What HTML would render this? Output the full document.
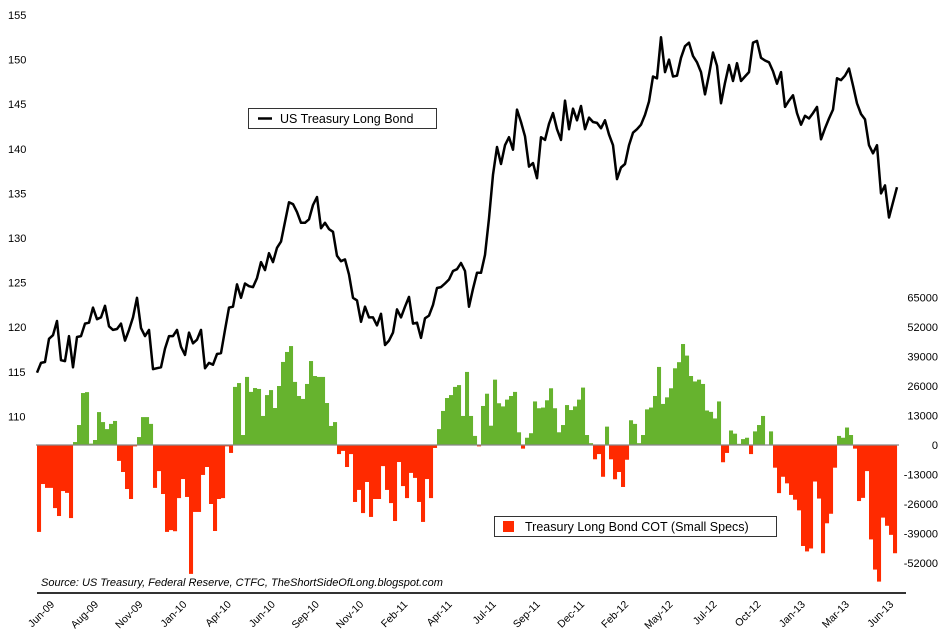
<!DOCTYPE html>
<html><head><meta charset="utf-8"><style>
html,body{margin:0;padding:0;background:#fff;}
svg{display:block;font-family:"Liberation Sans",sans-serif;}
</style></head><body>
<svg id="chart" width="945" height="635" viewBox="0 0 945 635" xmlns="http://www.w3.org/2000/svg">
<g id="left-axis"></g>
<g id="right-axis"></g>
<g id="bars"></g>
<line x1="36" y1="445" x2="899" y2="445" stroke="#888" stroke-width="1.2"/>
<path id="price-line" fill="none" stroke="#000" stroke-width="2.5" stroke-linejoin="round"/>
<g>
<rect x="248.5" y="108.5" width="188" height="20" fill="#fff" stroke="#333" stroke-width="1"/>
<line x1="258" y1="118.5" x2="272" y2="118.5" stroke="#000" stroke-width="2.5"/>
<text x="280" y="123" font-size="12.5" fill="#000">US Treasury Long Bond</text>
</g>
<g>
<rect x="494.5" y="516.5" width="282" height="20" fill="#fff" stroke="#333" stroke-width="1"/>
<rect x="503" y="521" width="11" height="11" fill="#ff2a00"/>
<text x="525" y="531" font-size="12.5" fill="#000">Treasury Long Bond COT (Small Specs)</text>
</g>
<text x="41" y="586" font-size="11" font-style="italic" fill="#000">Source: US Treasury, Federal Reserve, CTFC, TheShortSideOfLong.blogspot.com</text>
<line x1="37" y1="593" x2="906" y2="593" stroke="#333" stroke-width="2"/>
<g id="x-axis"></g>
</svg>
<script>
const prices = [114.9,116.0,116.1,118.7,119.1,120.7,116.3,116.2,119.0,115.5,118.9,119.0,120.4,120.5,122.2,120.9,121.1,122.4,120.1,119.7,119.8,120.4,118.5,119.7,121.1,123.3,119.9,119.0,119.7,115.3,115.4,115.5,117.6,119.0,119.0,119.7,117.8,116.9,119.4,118.2,118.6,119.7,115.4,116.0,115.8,117.0,117.1,119.7,122.2,122.3,124.8,123.3,124.9,124.6,124.5,125.5,127.3,126.4,128.3,127.3,128.9,129.6,131.8,134.0,133.8,132.9,131.7,131.7,132.1,133.7,134.6,131.1,131.7,131.0,130.7,128.0,127.4,127.6,125.9,123.3,123.0,120.6,122.3,121.1,121.1,120.2,121.5,118.0,118.5,119.4,122.0,121.1,122.3,123.4,120.4,120.5,118.8,121.0,121.3,122.5,124.4,
124.5,124.9,125.35,126.3,126.5,127.2,126.3,122.3,124.3,126.1,126.1,128.1,132.2,137.1,140.2,138.3,140.4,141.3,139.9,144.4,143.0,141.4,138.0,138.4,136.7,141.3,141.0,142.8,144.0,142.2,141.0,145.4,142.2,144.5,143.2,144.8,142.2,143.5,143.0,142.9,142.3,143.2,141.6,140.4,136.6,137.9,138.3,140.4,141.8,142.2,142.7,143.8,145.3,148.1,147.9,152.5,148.6,150.0,148.1,148.2,150.2,151.5,151.9,150.4,149.7,148.6,146.1,148.3,150.8,149.3,145.1,147.4,149.4,147.6,149.6,147.6,148.1,148.6,151.9,152.1,150.2,149.9,149.7,148.7,147.3,148.6,144.7,145.4,146.0,144.0,142.7,143.7,143.4,144.0,144.7,141.06,142.3,143.4,144.4,147.9,147.7,148.2,149.0,147.1,145.1,143.9,143.3,140.4,139.5,140.4,135.0,135.9,132.3,134.0,135.7];
const cot = [-38300,-17200,-18900,-18900,-27800,-31300,-20300,-21100,-32200,1300,8800,22900,23300,600,2200,14500,10100,7000,9300,10600,-7000,-11900,-19400,-23800,-600,3500,12300,12300,9300,-18900,-11500,-21600,-38300,-37500,-38000,-23400,-15000,-22900,-56800,-29500,-29500,-13200,-9700,-26000,-37900,-23800,-23400,-600,-3500,25600,27300,4400,30000,23400,25100,24700,12800,22000,24200,16300,26000,36600,41000,43600,27800,21600,20300,26900,37000,30400,30000,30000,18500,8400,10100,-4000,-2600,-9700,-4000,-25100,-19800,-30000,-16300,-31700,-23800,-23800,-9300,-19800,-25600,-33500,-7500,-18100,-23400,-12300,-14500,-25100,-33900,-15000,-23400,-1300,7000,15000,20700,22000,25600,26400,12800,32200,12800,4000,-600,17200,
22600,8500,28800,18400,17000,20000,21600,23400,5600,-1600,3200,5200,19200,16200,16500,19700,25000,16200,5600,8800,17600,15400,17000,20000,25300,4400,800,-6300,-4000,-14000,8100,-6300,-15100,-11900,-18500,-6500,10900,9300,800,4400,15700,16500,21600,34400,18100,21000,25000,33800,36500,44500,39400,30400,28000,28800,26900,15200,14600,11700,19200,-7600,-3500,6400,5000,500,2600,3200,-4000,6000,8800,12800,200,6000,-10000,-21200,-14000,-16900,-22000,-24100,-28800,-44500,-46900,-45600,-16100,-23600,-47700,-34500,-30300,-10000,4000,3200,7700,4400,-1600,-24700,-23300,-11500,-41600,-54900,-60200,-32000,-35600,-39600,-47700];
const leftTicks = [155,150,145,140,135,130,125,120,115,110];
const rightTicks = [65000,52000,39000,26000,13000,0,-13000,-26000,-39000,-52000];
const xLabels = ["Jun-09","Aug-09","Nov-09","Jan-10","Apr-10","Jun-10","Sep-10","Nov-10","Feb-11","Apr-11","Jul-11","Sep-11","Dec-11","Feb-12","May-12","Jul-12","Oct-12","Jan-13","Mar-13","Jun-13"];
const xLabelWeeks = [0.5,11.5,22.6,33.6,44.7,55.7,66.7,77.8,88.8,99.9,110.9,121.9,133.0,144.0,155.1,166.1,177.1,188.2,199.2,210.3];

const NS = "http://www.w3.org/2000/svg";
const xScale = w => 37 + w * 4;
const yPrice = p => 15 + (155 - p) * 8.92;
const yCot = v => 445 - v * 29.5 / 13000;

function mk(tag, attrs, parent){ const e = document.createElementNS(NS, tag); for (const k in attrs) e.setAttribute(k, attrs[k]); parent.appendChild(e); return e; }

const la = document.getElementById('left-axis');
leftTicks.forEach(t => {
  const e = mk('text', {x: 8, y: yPrice(t) + 4, 'font-size': 11, fill: '#000'}, la);
  
  
  e.textContent = t;
});
const ra = document.getElementById('right-axis');
rightTicks.forEach(t => {
  const e = mk('text', {x: 938, y: yCot(t) + 4, 'font-size': 11, fill: '#000', 'text-anchor': 'end'}, ra);
  
  
  e.textContent = t;
});

const bg = document.getElementById('bars');
cot.forEach((v, i) => {
  const y0 = yCot(0), y1 = yCot(v);
  const r = mk('rect', {x: xScale(i), y: Math.min(y0, y1), width: 4.05, height: Math.max(0.5, Math.abs(y1 - y0)), fill: v >= 0 ? '#66b32e' : '#ff2a00'}, bg);
  
  
});

document.getElementById('price-line').setAttribute('d', prices.map((p, i) => (i ? 'L' : 'M') + xScale(i).toFixed(1) + ',' + yPrice(p).toFixed(1)).join(''));

const xa = document.getElementById('x-axis');
xLabels.forEach((l, i) => {
  const x = xScale(xLabelWeeks[i]) + 16, y = 605;
  const t = mk('text', {x: x, y: y, 'font-size': 10.5, fill: '#000', 'text-anchor': 'end', transform: 'rotate(-45 ' + x + ' ' + y + ')'}, xa);
  
  
  t.textContent = l;
});
</script>
</body></html>
